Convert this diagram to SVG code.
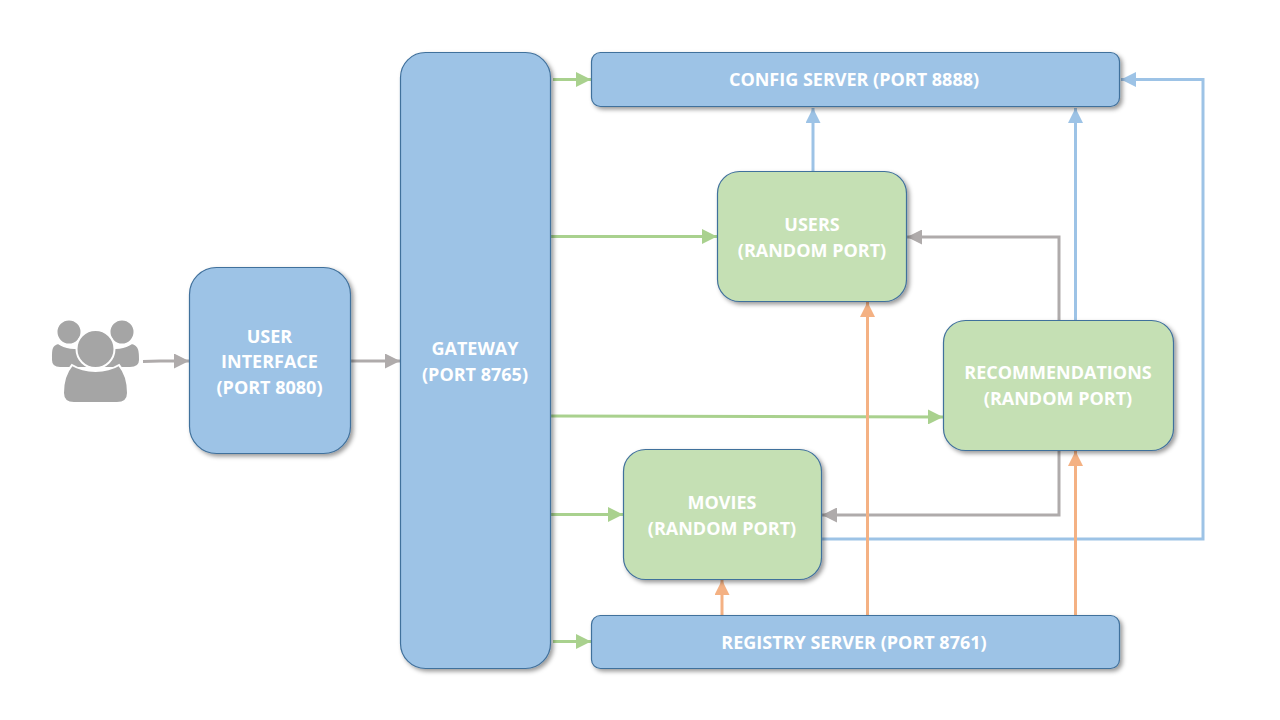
<svg xmlns="http://www.w3.org/2000/svg" width="1280" height="720" viewBox="0 0 1280 720">
<style>
.box{stroke:#41719c;stroke-width:1.2;filter:url(#sh)}
.blue{fill:#9dc3e6}
.green{fill:#c5e0b4}
text{font-family:"Open Sans","Noto Sans",sans-serif;font-weight:700;font-size:18px;fill:#fff;text-anchor:middle}
.c{fill:none;stroke-width:3}
.cg{stroke:#a9d18e}.cb{stroke:#9dc3e6}.co{stroke:#f4b183}.cy{stroke:#afabab}
.ic{fill:#a5a5a5;stroke:#fff;stroke-width:2}
</style>
<defs>
<filter id="sh" x="-10%" y="-10%" width="125%" height="125%"><feDropShadow dx="2.5" dy="2.5" stdDeviation="2" flood-color="#000" flood-opacity="0.4"/></filter>
<marker id="ag" markerUnits="userSpaceOnUse" markerWidth="15" markerHeight="15" refX="15" refY="7.5" orient="auto"><path d="M0 0L15 7.5L0 15Z" fill="#a9d18e"/></marker>
<marker id="ab" markerUnits="userSpaceOnUse" markerWidth="15" markerHeight="15" refX="15" refY="7.5" orient="auto"><path d="M0 0L15 7.5L0 15Z" fill="#9dc3e6"/></marker>
<marker id="ao" markerUnits="userSpaceOnUse" markerWidth="15" markerHeight="15" refX="15" refY="7.5" orient="auto"><path d="M0 0L15 7.5L0 15Z" fill="#f4b183"/></marker>
<marker id="ay" markerUnits="userSpaceOnUse" markerWidth="15" markerHeight="15" refX="15" refY="7.5" orient="auto"><path d="M0 0L15 7.5L0 15Z" fill="#afabab"/></marker>
</defs>
<rect width="1280" height="720" fill="#fff"/>
<g id="user-icon">
<circle class="ic" cx="69" cy="332" r="12.5"/>
<circle class="ic" cx="122" cy="332" r="12.5"/>
<path class="ic" d="M58 343C50 345 51 352 51 360C51 366 55 368 60 368H130C136 368 140 366 140 360C140 352 140 345 132 343C122 350 112 348 95 348C78 348 68 350 58 343Z"/>
<circle class="ic" cx="95.500" cy="349" r="19"/>
<path class="ic" d="M72 365C66 372 63 382 63 393C63 400 68 403 74 403H117C124 403 128 400 128 393C128 382 125 372 119 365C106 373 85 373 72 365Z"/>
</g>
<g id="connectors">
<path class="c cy" marker-end="url(#ay)" d="M143 361.500L160 361H189"/>
<path class="c cy" marker-end="url(#ay)" d="M351 361H400"/>
<path class="c cg" marker-end="url(#ag)" d="M553 79.500H591"/>
<path class="c cg" marker-end="url(#ag)" d="M551 236.500H717"/>
<path class="c cg" marker-end="url(#ag)" d="M551 416L943 417"/>
<path class="c cg" marker-end="url(#ag)" d="M551 514.500H623"/>
<path class="c cg" marker-end="url(#ag)" d="M553 641.500H591"/>
<path class="c cb" marker-end="url(#ab)" d="M813 171V108"/>
<path class="c cb" marker-end="url(#ab)" d="M1075.500 321V108"/>
<path class="c cb" marker-end="url(#ab)" d="M821 539H1203V79.500H1121"/>
<path class="c cy" marker-end="url(#ay)" d="M1059 321V237H907"/>
<path class="c cy" marker-end="url(#ay)" d="M1059 451V515H822"/>
<path class="c co" marker-end="url(#ao)" d="M722 615V580"/>
<path class="c co" marker-end="url(#ao)" d="M867.500 615V302"/>
<path class="c co" marker-end="url(#ao)" d="M1075.500 615V451"/>
</g>
<g id="user-interface"><rect class="box blue" x="189.500" y="267.500" width="161" height="186" rx="27"/><text x="269.500" y="342.500">USER</text><text x="269.500" y="368">INTERFACE</text><text x="269.500" y="393.500">(PORT 8080)</text></g>
<g id="gateway"><rect class="box blue" x="400.500" y="52.500" width="150" height="616" rx="25"/><text x="475" y="354.500">GATEWAY</text><text x="475" y="380.500">(PORT 8765)</text></g>
<g id="config-server"><rect class="box blue" x="591.500" y="52.500" width="528" height="54" rx="9"/><text x="854" y="85.500">CONFIG SERVER (PORT 8888)</text></g>
<g id="users"><rect class="box green" x="717.500" y="171.500" width="189" height="130" rx="22"/><text x="812" y="230.500">USERS</text><text x="812" y="256.500">(RANDOM PORT)</text></g>
<g id="recommendations"><rect class="box green" x="943.500" y="320.500" width="230" height="130" rx="22"/><text x="1058" y="378.500">RECOMMENDATIONS</text><text x="1058" y="404.500">(RANDOM PORT)</text></g>
<g id="movies"><rect class="box green" x="623.500" y="449.500" width="198" height="130" rx="22"/><text x="722" y="508.500">MOVIES</text><text x="722" y="534.500">(RANDOM PORT)</text></g>
<g id="registry-server"><rect class="box blue" x="591.500" y="615.500" width="528" height="53" rx="9"/><text x="854" y="648.500">REGISTRY SERVER (PORT 8761)</text></g>
</svg>
